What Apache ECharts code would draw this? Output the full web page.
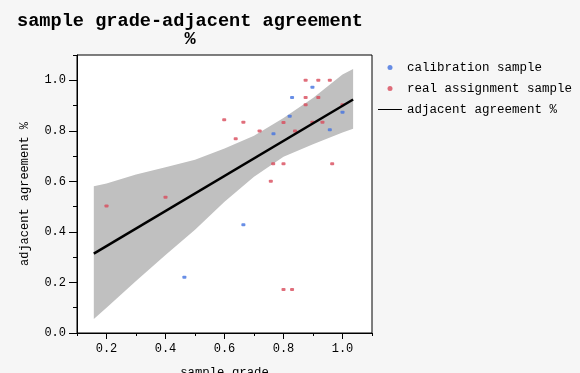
<!DOCTYPE html>
<html>
<head>
<meta charset="utf-8">
<script src="https://cdn.jsdelivr.net/npm/echarts@6/dist/echarts.min.js"></script>
<style>
html,body{margin:0;padding:0;background:#f6f6f6;}
#chart{width:580px;height:373px;}
</style>
</head>
<body>
<div id="chart"></div>
<script>
// Data
var calibrationSample = [
  [0.829, 0.932], [0.898, 0.972], [0.821, 0.858], [0.766, 0.788],
  [1.000, 0.873], [0.957, 0.804], [0.664, 0.428], [0.464, 0.221]
];
var realAssignmentSample = [
  [0.200, 0.503], [0.400, 0.537], [0.599, 0.844], [0.638, 0.769],
  [0.664, 0.834], [0.719, 0.799], [0.800, 0.833], [0.839, 0.799],
  [0.765, 0.670], [0.800, 0.670], [0.757, 0.600], [0.875, 1.000],
  [0.918, 1.000], [0.957, 1.000], [0.875, 0.932], [0.918, 0.932],
  [0.875, 0.903], [0.898, 0.834], [0.932, 0.834], [1.000, 0.903],
  [0.965, 0.670], [0.800, 0.172], [0.829, 0.172]
];
var fitLine = [[0.157, 0.314], [1.036, 0.924]];
var bandX     = [0.157, 0.2,   0.3,   0.4,   0.5,   0.6,   0.7,   0.8,   0.9,   1.0,   1.036];
var bandUpper = [0.581, 0.592, 0.627, 0.656, 0.686, 0.730, 0.780, 0.851, 0.930, 1.023, 1.045];
var bandLower = [0.055, 0.100, 0.206, 0.309, 0.409, 0.519, 0.618, 0.697, 0.747, 0.793, 0.808];

var xMajorTicks = [0.2, 0.4, 0.6, 0.8, 1.0];
var xMinorTicks = [0.1, 0.3, 0.5, 0.7, 0.9, 1.1];
var yMajorTicks = [0.0, 0.2, 0.4, 0.6, 0.8, 1.0];
var yMinorTicks = [0.1, 0.3, 0.5, 0.7, 0.9, 1.1];

var seriesNames = ['calibration sample', 'real assignment sample', 'adjacent agreement %'];
var titleText = 'sample grade-adjacent agreement\n%';
var xName = 'sample grade';
var yName = 'adjacent agreement %';

var FONT = 'Liberation Mono';
var chart = echarts.init(document.getElementById('chart'), null, {renderer: 'canvas'});

function fmt(v) { return v.toFixed(1); }

var option = {
  backgroundColor: '#f6f6f6',
  animation: false,
  title: {
    text: titleText,
    left: 185,
    top: 7,
    textAlign: 'center',
    textStyle: {fontFamily: FONT, fontSize: 18.6, fontWeight: 'bold', color: '#000', lineHeight: 18}
  },
  legend: {
    orient: 'vertical',
    left: 378,
    top: 61,
    padding: 0,
    itemWidth: 24,
    itemHeight: 5,
    itemGap: 8,
    textStyle: {fontFamily: FONT, fontSize: 12.5, color: '#000'},
    data: [
      {name: seriesNames[0], icon: 'circle'},
      {name: seriesNames[1], icon: 'circle'},
      {name: seriesNames[2], icon: 'path://M0,0H24V1H0Z', itemStyle: {color: '#000'}}
    ]
  },
  grid: {
    left: 77, right: 208, top: 55, bottom: 40,
    outerBoundsMode: 'none',
    containLabel: false,
    show: true, backgroundColor: '#ffffff', borderColor: '#000', borderWidth: 1
  },
  xAxis: [
    {
      type: 'value', min: 0.1, max: 1.1,
      name: xName, nameLocation: 'middle', nameGap: 34,
      nameTextStyle: {fontFamily: FONT, fontSize: 12.3, color: '#000'},
      axisLine: {lineStyle: {color: '#000', width: 1}},
      axisTick: {show: true, length: 6, customValues: xMajorTicks, lineStyle: {color: '#000'}},
      axisLabel: {customValues: xMajorTicks, formatter: fmt, margin: 10,
                  fontFamily: FONT, fontSize: 12, color: '#000'},
      splitLine: {show: false}
    },
    {
      type: 'value', min: 0.1, max: 1.1, position: 'bottom',
      axisLine: {show: false},
      axisTick: {show: true, length: 3, customValues: xMinorTicks, lineStyle: {color: '#000'}},
      axisLabel: {show: false},
      splitLine: {show: false}
    }
  ],
  yAxis: [
    {
      type: 'value', min: 0, max: 1.1,
      name: yName, nameLocation: 'middle', nameGap: 46, nameRotate: 90,
      nameTextStyle: {fontFamily: FONT, fontSize: 12, color: '#000'},
      axisLine: {lineStyle: {color: '#000', width: 1}},
      axisTick: {show: true, length: 8, customValues: yMajorTicks, lineStyle: {color: '#000'}},
      axisLabel: {customValues: yMajorTicks, formatter: fmt, margin: 11,
                  fontFamily: FONT, fontSize: 12, color: '#000'},
      splitLine: {show: false}
    },
    {
      type: 'value', min: 0, max: 1.1, position: 'left',
      axisLine: {show: false},
      axisTick: {show: true, length: 4, customValues: yMinorTicks, lineStyle: {color: '#000'}},
      axisLabel: {show: false},
      splitLine: {show: false}
    }
  ],
  series: [
    {
      name: 'band',
      type: 'custom',
      z: 1,
      silent: true,
      clip: true,
      data: [[bandX[0], bandLower[0]]],
      renderItem: function (params, api) {
        var pts = [];
        for (var i = 0; i < bandX.length; i++) pts.push(api.coord([bandX[i], bandUpper[i]]));
        for (var j = bandX.length - 1; j >= 0; j--) pts.push(api.coord([bandX[j], bandLower[j]]));
        return {type: 'polygon', shape: {points: pts}, style: {fill: '#c0c0c0', stroke: null}};
      }
    },
    {
      name: seriesNames[0],
      type: 'scatter',
      z: 3,
      symbol: 'roundRect',
      symbolSize: [4, 3],
      itemStyle: {color: '#4272e0'},
      data: calibrationSample
    },
    {
      name: seriesNames[1],
      type: 'scatter',
      z: 3,
      symbol: 'roundRect',
      symbolSize: [4, 3],
      itemStyle: {color: '#d84a5a'},
      data: realAssignmentSample
    },
    {
      name: seriesNames[2],
      type: 'line',
      z: 4,
      symbol: 'none',
      showSymbol: false,
      lineStyle: {color: '#000', width: 2.5},
      itemStyle: {color: '#000'},
      data: fitLine
    }
  ]
};
chart.setOption(option);
</script>
</body>
</html>
